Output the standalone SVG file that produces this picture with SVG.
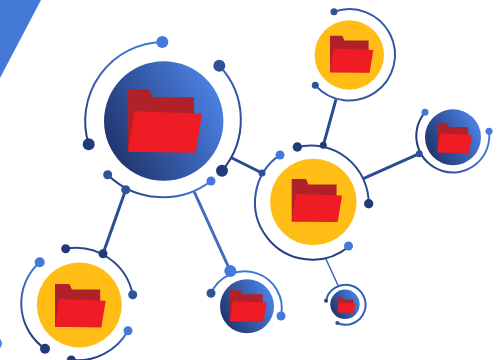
<svg xmlns="http://www.w3.org/2000/svg" xmlns:xlink="http://www.w3.org/1999/xlink" width="500" height="360" viewBox="0 0 500 360">
<style>
.arc{fill:none;stroke-width:2;stroke-linecap:round}
.link{fill:none;stroke-linecap:butt}
.y{fill:#ffbd16}
.b{fill:url(#disc)}
.d{fill:#24397a}
.m{fill:#2f5299}
.l{fill:#4479d8}
</style>
<defs>
<linearGradient id="disc" x1="0.08" y1="0.72" x2="0.95" y2="0.28"><stop offset="0" stop-color="#233872"/><stop offset="1" stop-color="#4a80e2"/></linearGradient>
<linearGradient id="v" x1="0" y1="0" x2="0" y2="1"><stop offset="0" stop-color="#4479d8"/><stop offset="1" stop-color="#24397a"/></linearGradient>
<linearGradient id="vm" x1="0" y1="0" x2="0" y2="1"><stop offset="0" stop-color="#3a66b8"/><stop offset="1" stop-color="#24397a"/></linearGradient>
<linearGradient id="h" x1="0" y1="0" x2="1" y2="0"><stop offset="0" stop-color="#24397a"/><stop offset="1" stop-color="#4479d8"/></linearGradient>
<symbol id="folder" overflow="visible">
<path fill="#b0212a" d="M0 0H21L24.700 8H66V62.400H0Z"/>
<path fill="#ef1c25" d="M6.300 22L74 24.400L67.700 63.400L0 62.400Z"/>
</symbol>
</defs>
<polygon id="corner" points="0,0 41,0 0,78" fill="#4479d8"/>
<circle id="edge-dot" cx="-4" cy="343.500" r="6" fill="#4a80e2"/>
<g id="connectors">
<line class="link" x1="231" y1="157.500" x2="262" y2="173" stroke="#2a4a92" stroke-width="3"/>
<line class="link" x1="125.700" y1="189.700" x2="103" y2="253.700" stroke="#2c4c94" stroke-width="3"/>
<line class="link" x1="194.300" y1="192" x2="230.300" y2="271" stroke="#3d6cc0" stroke-width="3"/>
<line class="link" x1="336" y1="99.300" x2="323.300" y2="145.300" stroke="#2a4a92" stroke-width="3"/>
<line class="link" x1="363.300" y1="178.700" x2="419.300" y2="153.700" stroke="#2c4c94" stroke-width="3"/>
<line class="link" x1="325.500" y1="258" x2="338.300" y2="286" stroke="#3a66b8" stroke-width="1.500"/>
</g>
<g id="node-large">
<circle class="b" cx="163.700" cy="121" r="59.700"/>
<use href="#folder" x="128" y="89.300"/>
<path class="arc" stroke="url(#v)" d="M162.300 42A79 79 0 0 0 88.700 144.300"/>
<path class="arc" stroke="url(#vm)" d="M219.300 65.700A78.500 78.500 0 0 1 222 170.700"/>
<path class="arc" stroke="url(#h)" d="M107.700 174.700A79 79 0 0 0 211 181"/>
<circle class="l" cx="162.300" cy="42" r="6"/><circle class="d" cx="88.700" cy="144.300" r="6"/>
<circle class="m" cx="219.300" cy="65.700" r="6"/><circle class="d" cx="222" cy="170.700" r="6"/>
<circle class="m" cx="107.700" cy="174.700" r="4.500"/><circle class="m" cx="125.700" cy="189.700" r="4.500"/><circle class="l" cx="211" cy="181" r="4.500"/>
</g>
<g id="node-centre">
<circle class="y" cx="313.300" cy="202" r="43.300"/>
<use href="#folder" transform="translate(291.700 179) scale(.68)"/>
<path class="arc" stroke="#2c4a90" d="M297.300 147A58 58 0 0 1 368.700 203.700"/>
<path class="arc" stroke="url(#vm)" d="M280 154.900A57.400 57.400 0 1 0 349 246.500"/>
<circle class="d" cx="297.300" cy="147" r="4.700"/><circle class="d" cx="323.300" cy="145.300" r="3.500"/><circle class="d" cx="368.700" cy="203.700" r="4.700"/>
<circle class="l" cx="280" cy="155" r="4.500"/><circle class="m" cx="262" cy="173" r="3.500"/><circle class="l" cx="348.500" cy="246" r="4.500"/>
</g>
<g id="node-lower-left">
<circle class="y" cx="79.300" cy="305" r="42.500"/>
<use href="#folder" transform="translate(55 284) scale(.685)"/>
<path class="arc" stroke="#2c4a90" d="M65.700 248.700A58 58 0 0 1 132.700 294.700"/>
<path class="arc" stroke="url(#v)" d="M39.700 262.300A55 55 0 0 0 45 348.700"/>
<path class="arc" stroke="url(#v)" d="M128 330.700A58 58 0 0 1 71.300 360"/>
<circle class="d" cx="65.700" cy="248.700" r="4.500"/><circle class="d" cx="103" cy="253.700" r="4.500"/><circle class="m" cx="132.700" cy="294.700" r="4.500"/>
<circle class="l" cx="39.700" cy="262.300" r="5"/><circle class="d" cx="45" cy="348.700" r="5"/>
<circle class="l" cx="128" cy="330.700" r="4.500"/><circle class="d" cx="71.300" cy="360" r="4.500"/>
</g>
<g id="node-top">
<circle class="y" cx="349.300" cy="55" r="34.700"/>
<use href="#folder" transform="translate(330 35.700) scale(.585)"/>
<path class="arc" stroke="#3358a4" d="M334 11.700A45.700 45.700 0 1 1 315.300 85.300"/>
<circle class="m" cx="334" cy="11.700" r="3.500"/><circle class="m" cx="315.300" cy="85.300" r="3.500"/>
</g>
<g id="node-right">
<circle class="b" cx="453" cy="137.300" r="28"/>
<use href="#folder" transform="translate(437.300 123.300) scale(.468)"/>
<path class="arc" stroke="url(#h)" d="M425 112.300A36.500 36.500 0 1 0 489 131.300"/>
<circle class="l" cx="425" cy="112.300" r="3.500"/><circle class="m" cx="419.300" cy="153.700" r="3.500"/><circle class="l" cx="489" cy="131.300" r="3.500"/>
</g>
<g id="node-bottom">
<circle class="b" cx="247" cy="306.300" r="27"/>
<use href="#folder" transform="translate(230 290.300) scale(.495)"/>
<path class="arc" stroke="#4076d4" d="M211 293.300A37 37 0 0 1 281 316"/>
<circle class="m" cx="211" cy="293.300" r="4.500"/><circle class="l" cx="230.300" cy="271" r="6"/><circle class="l" cx="281" cy="316" r="4.500"/>
</g>
<g id="node-small">
<circle class="b" cx="345" cy="304.300" r="14.700"/>
<use href="#folder" transform="translate(337.700 297.700) scale(.238)"/>
<path class="arc" stroke="#3460b0" d="M326 300.700A20 20 0 1 1 337.300 323"/>
<circle class="d" cx="326" cy="300.700" r="2"/><circle class="m" cx="337.300" cy="323" r="2"/>
</g>
</svg>
